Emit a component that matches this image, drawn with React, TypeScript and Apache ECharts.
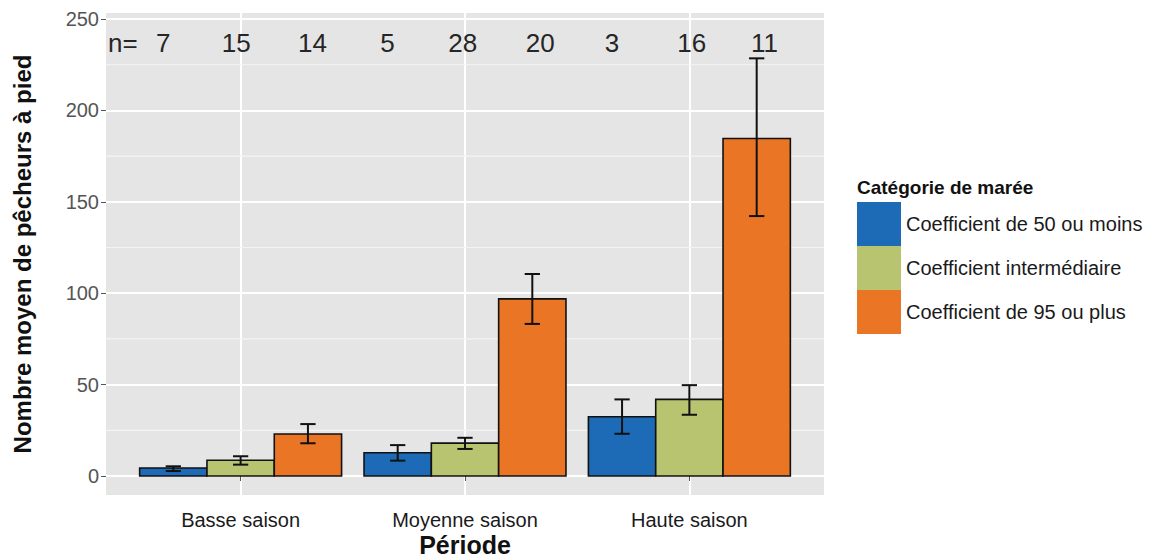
import React, { useEffect, useRef } from "react";
import * as echarts from "echarts";

const periods = ["Basse saison", "Moyenne saison", "Haute saison"];
const tideCategories = [
  "Coefficient de 50 ou moins",
  "Coefficient intermédiaire",
  "Coefficient de 95 ou plus",
];
const tideColors = ["#1d6bb6", "#b8c46f", "#ea7625"];

const meanLow = [4.4, 12.7, 32.4];
const errLoLow = [2.7, 8.4, 23.1];
const errHiLow = [5.3, 16.9, 41.9];

const meanMid = [8.6, 18.0, 41.9];
const errLoMid = [6.2, 14.8, 33.5];
const errHiMid = [10.8, 20.9, 49.7];

const meanHigh = [23.0, 96.9, 184.6];
const errLoHigh = [17.9, 83.2, 142.2];
const errHiHigh = [28.4, 110.5, 228.5];

const yTicks = [0, 50, 100, 150, 200, 250];
const yMinorTicks = [25, 75, 125, 175, 225];
const xTicks = [1, 2, 3];

const nLabels = ["n=", "7", "15", "14", "5", "28", "20", "3", "16", "11"];
const nLabelX = [0.475, 0.655, 0.98, 1.32, 1.655, 1.99, 2.335, 2.655, 3.01, 3.335];
const nLabelLevel = 237;

const FONT = "'Liberation Sans', Arial, sans-serif";

export default function App() {
  const ref = useRef<HTMLDivElement>(null);

  useEffect(() => {
    if (!ref.current) return;
    const chart = echarts.init(ref.current, null, { renderer: "svg" });

    const means = [meanLow, meanMid, meanHigh];
    const los = [errLoLow, errLoMid, errLoHigh];
    const his = [errHiLow, errHiMid, errHiHigh];
    const offsets = [-0.3, 0, 0.3];
    const halfBar = 0.15;
    const halfCap = 0.034;

    const barSeries = tideCategories.map((name, s) => ({
      type: "custom",
      name,
      z: 3,
      itemStyle: { color: tideColors[s] },
      data: periods.map((_, i) => [i + 1, means[s][i], los[s][i], his[s][i]]),
      renderItem: (params: any, api: any) => {
        const cx = api.value(0) + offsets[s];
        const m = api.value(1);
        const lo = api.value(2);
        const hi = api.value(3);
        const tl = api.coord([cx - halfBar, m]);
        const br = api.coord([cx + halfBar, 0]);
        const top = api.coord([cx, hi]);
        const bot = api.coord([cx, lo]);
        const capL = api.coord([cx - halfCap, hi]);
        const capR = api.coord([cx + halfCap, hi]);
        const capL2 = api.coord([cx - halfCap, lo]);
        const capR2 = api.coord([cx + halfCap, lo]);
        const lineStyle = { stroke: "#111", lineWidth: 2 };
        return {
          type: "group",
          children: [
            {
              type: "rect",
              shape: { x: tl[0], y: tl[1], width: br[0] - tl[0], height: br[1] - tl[1] },
              style: { fill: tideColors[s], stroke: "#111", lineWidth: 1.6 },
            },
            { type: "line", shape: { x1: top[0], y1: top[1], x2: bot[0], y2: bot[1] }, style: lineStyle },
            { type: "line", shape: { x1: capL[0], y1: capL[1], x2: capR[0], y2: capR[1] }, style: lineStyle },
            { type: "line", shape: { x1: capL2[0], y1: capL2[1], x2: capR2[0], y2: capR2[1] }, style: lineStyle },
          ],
        };
      },
    }));

    const minorGridSeries = {
      type: "custom",
      name: "minor",
      z: 1,
      silent: true,
      data: yMinorTicks.map((v) => [0.4, v]),
      renderItem: (params: any, api: any) => {
        const v = api.value(1);
        const a = api.coord([0.4, v]);
        const b = api.coord([3.6, v]);
        return {
          type: "line",
          shape: { x1: a[0], y1: a[1], x2: b[0], y2: b[1] },
          style: { stroke: "#f4f4f4", lineWidth: 1.2 },
        };
      },
    };

    const nLabelSeries = {
      type: "custom",
      name: "n",
      z: 4,
      silent: true,
      data: nLabelX.map((x) => [x, nLabelLevel]),
      renderItem: (params: any, api: any) => {
        const p = api.coord([api.value(0), api.value(1)]);
        return {
          type: "text",
          x: p[0],
          y: p[1],
          style: {
            text: nLabels[params.dataIndex],
            fill: "#262626",
            font: `26px ${FONT}`,
            textAlign: "center",
            textVerticalAlign: "middle",
          },
        };
      },
    };

    const option: any = {
      animation: false,
      backgroundColor: "#ffffff",
      textStyle: { fontFamily: FONT },
      grid: {
        left: 106,
        right: 326,
        top: 13,
        bottom: 64,
        show: true,
        backgroundColor: "#e5e5e5",
        borderWidth: 0,
        containLabel: false,
        outerBoundsMode: "none",
      },
      xAxis: {
        type: "value",
        min: 0.4,
        max: 3.6,
        axisLine: { show: false },
        axisTick: { show: true, length: 5, lineStyle: { color: "#555", width: 1 }, customValues: xTicks },
        axisLabel: {
          customValues: xTicks,
          formatter: (v: number) => periods[Math.round(v) - 1] ?? "",
          fontSize: 20,
          color: "#1a1a1a",
          margin: 15,
          fontFamily: FONT,
        },
        splitLine: { show: true, showMinLine: true, showMaxLine: true, lineStyle: { color: "#ffffff", width: 2 } },
        name: "Période",
        nameLocation: "middle",
        nameGap: 37,
        nameMoveOverlap: false,
        nameTextStyle: { fontSize: 25, fontWeight: "bold", color: "#111", fontFamily: FONT },
      },
      yAxis: {
        type: "value",
        min: -10.4,
        max: 253.3,
        axisLine: { show: false },
        axisTick: { show: true, length: 5, lineStyle: { color: "#555", width: 1 }, customValues: yTicks },
        axisLabel: {
          customValues: yTicks,
          fontSize: 20,
          color: "#555555",
          margin: 7,
          fontFamily: FONT,
        },
        splitLine: { show: true, showMinLine: true, showMaxLine: true, lineStyle: { color: "#ffffff", width: 2 } },
        name: "Nombre moyen de pêcheurs à pied",
        nameLocation: "middle",
        nameGap: 72,
        nameMoveOverlap: false,
        nameTextStyle: { fontSize: 24, fontWeight: "bold", color: "#111", fontFamily: FONT },
      },
      legend: {
        data: tideCategories,
        orient: "vertical",
        left: 857,
        top: 202,
        itemWidth: 44,
        itemHeight: 44,
        itemGap: 0,
        icon: "rect",
        padding: 0,
        itemStyle: { borderWidth: 0 },
        textStyle: { fontSize: 20, color: "#1a1a1a", fontFamily: FONT },
        selectedMode: false,
      },
      graphic: [
        {
          type: "text",
          left: 857,
          top: 178,
          style: { text: "Catégorie de marée", font: `bold 19px ${FONT}`, fill: "#111" },
        },
      ],
      series: [minorGridSeries, ...barSeries, nLabelSeries],
    };

    chart.setOption(option);
    return () => chart.dispose();
  }, []);

  return (
    <div
      ref={ref}
      style={{ position: "absolute", left: 0, top: 0, width: 1150, height: 559 }}
    />
  );
}
